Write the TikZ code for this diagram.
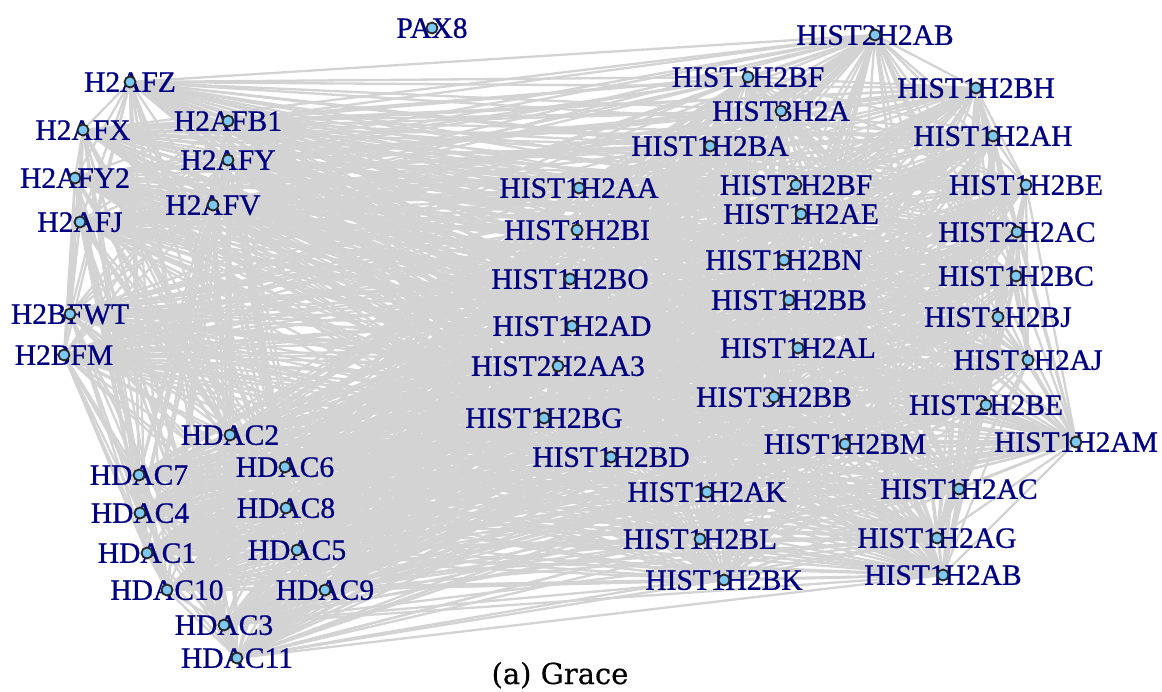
\documentclass[tikz,border=0pt]{standalone}
\usepackage{fontspec}
\setmainfont{Liberation Serif}
\newfontfamily\lblfont[FakeBold=0.7]{Liberation Serif}
\newfontfamily\capfont[FakeBold=0.4]{DejaVu Serif}
\definecolor{edgegray}{RGB}{211,211,211}
\definecolor{dotblue}{RGB}{125,200,245}
\definecolor{lblnavy}{RGB}{0,0,128}
\pgfdeclarelayer{edges}
\pgfsetlayers{edges,main}
\tikzset{
  dot/.style={circle,draw=black!85,fill=dotblue,line width=1.8pt,minimum size=11pt,inner sep=0pt},
  lbl/.style={font=\lblfont\fontsize{29.5}{30}\selectfont,text=lblnavy,inner sep=0pt,anchor=base,yshift=-9.8pt},
  edge/.style={draw=edgegray,line width=2.3pt},
  caption/.style={font=\capfont\fontsize{29}{30}\selectfont,inner sep=0pt,anchor=base}
}
\newcommand\gn[4]{\node[lbl] (#1l) at (#2,#3) {#4};\node[dot] (#1) at (#2,#3) {};}
\begin{document}
\begin{tikzpicture}[x=1pt,y=-1pt]
\useasboundingbox (0,0) rectangle (1162,691);
% left group
\gn{HAFZ}{130}{82}{H2AFZ}
\gn{HAFX}{83}{130}{H2AFX}
\gn{HAFYtwo}{75}{178}{H2AFY2}
\gn{HAFJ}{80}{222}{H2AFJ}
\gn{HAFBone}{228}{121}{H2AFB1}
\gn{HAFY}{228}{160}{H2AFY}
\gn{HAFV}{213}{205}{H2AFV}
\gn{HBFWT}{70}{314}{H2BFWT}
\gn{HBFM}{64}{355}{H2BFM}
% HDAC group
\gn{HDACtwo}{230}{435}{HDAC2}
\gn{HDACseven}{139}{475}{HDAC7}
\gn{HDACsix}{285}{467}{HDAC6}
\gn{HDACfour}{140}{513}{HDAC4}
\gn{HDACeight}{286}{508}{HDAC8}
\gn{HDACone}{147}{553}{HDAC1}
\gn{HDACfive}{297}{550}{HDAC5}
\gn{HDACten}{167}{590}{HDAC10}
\gn{HDACnine}{325}{590}{HDAC9}
\gn{HDACthree}{224}{625}{HDAC3}
\gn{HDACeleven}{237}{658}{HDAC11}
% PAX8
\gn{PAX}{432}{28}{PAX8}
% histones
\gn{HtwoAB}{875}{35}{HIST2H2AB}
\gn{HoneBF}{748}{77}{HIST1H2BF}
\gn{HoneBH}{976}{88}{HIST1H2BH}
\gn{HthreeA}{781}{111}{HIST3H2A}
\gn{HoneAH}{993}{136}{HIST1H2AH}
\gn{HoneBA}{710}{146}{HIST1H2BA}
\gn{HoneAA}{579}{188}{HIST1H2AA}
\gn{HtwoBF}{796}{185}{HIST2H2BF}
\gn{HoneBE}{1026}{185}{HIST1H2BE}
\gn{HoneAE}{801}{214}{HIST1H2AE}
\gn{HoneBI}{577}{230}{HIST1H2BI}
\gn{HtwoAC}{1017}{232}{HIST2H2AC}
\gn{HoneBN}{784}{260}{HIST1H2BN}
\gn{HoneBC}{1016}{276}{HIST1H2BC}
\gn{HoneBO}{570}{279}{HIST1H2BO}
\gn{HoneBB}{789}{300}{HIST1H2BB}
\gn{HoneBJ}{998}{317}{HIST1H2BJ}
\gn{HoneAD}{572}{326}{HIST1H2AD}
\gn{HoneAL}{798}{348}{HIST1H2AL}
\gn{HtwoAAthree}{558}{366}{HIST2H2AA3}
\gn{HoneAJ}{1028}{360}{HIST1H2AJ}
\gn{HthreeBB}{774}{397}{HIST3H2BB}
\gn{HtwoBE}{986}{405}{HIST2H2BE}
\gn{HoneBG}{544}{418}{HIST1H2BG}
\gn{HoneBM}{845}{444}{HIST1H2BM}
\gn{HoneAM}{1076}{442}{HIST1H2AM}
\gn{HoneBD}{611}{457}{HIST1H2BD}
\gn{HoneAK}{707}{492}{HIST1H2AK}
\gn{HoneAC}{959}{489}{HIST1H2AC}
\gn{HoneBL}{700}{539}{HIST1H2BL}
\gn{HoneAG}{937}{538}{HIST1H2AG}
\gn{HoneBK}{724}{580}{HIST1H2BK}
\gn{HoneAB}{943}{575}{HIST1H2AB}
% edges: all pairs except PAX8
\begin{pgfonlayer}{edges}
\foreach \a [count=\i] in {HAFZ,HAFX,HAFYtwo,HAFJ,HAFBone,HAFY,HAFV,HBFWT,HBFM,HDACtwo,HDACseven,HDACsix,HDACfour,HDACeight,HDACone,HDACfive,HDACten,HDACnine,HDACthree,HDACeleven,HtwoAB,HoneBF,HoneBH,HthreeA,HoneAH,HoneBA,HoneAA,HtwoBF,HoneBE,HoneAE,HoneBI,HtwoAC,HoneBN,HoneBC,HoneBO,HoneBB,HoneBJ,HoneAD,HoneAL,HtwoAAthree,HoneAJ,HthreeBB,HtwoBE,HoneBG,HoneBM,HoneAM,HoneBD,HoneAK,HoneAC,HoneBL,HoneAG,HoneBK,HoneAB}{
  \foreach \b [count=\j] in {HAFZ,HAFX,HAFYtwo,HAFJ,HAFBone,HAFY,HAFV,HBFWT,HBFM,HDACtwo,HDACseven,HDACsix,HDACfour,HDACeight,HDACone,HDACfive,HDACten,HDACnine,HDACthree,HDACeleven,HtwoAB,HoneBF,HoneBH,HthreeA,HoneAH,HoneBA,HoneAA,HtwoBF,HoneBE,HoneAE,HoneBI,HtwoAC,HoneBN,HoneBC,HoneBO,HoneBB,HoneBJ,HoneAD,HoneAL,HtwoAAthree,HoneAJ,HthreeBB,HtwoBE,HoneBG,HoneBM,HoneAM,HoneBD,HoneAK,HoneAC,HoneBL,HoneAG,HoneBK,HoneAB}{
    \ifnum\j>\i \draw[edge] (\a.center) -- (\b.center); \fi
  }
}
\end{pgfonlayer}
\node[caption] (cap) at (560,684) {(a) Grace};
\end{tikzpicture}
\end{document}
